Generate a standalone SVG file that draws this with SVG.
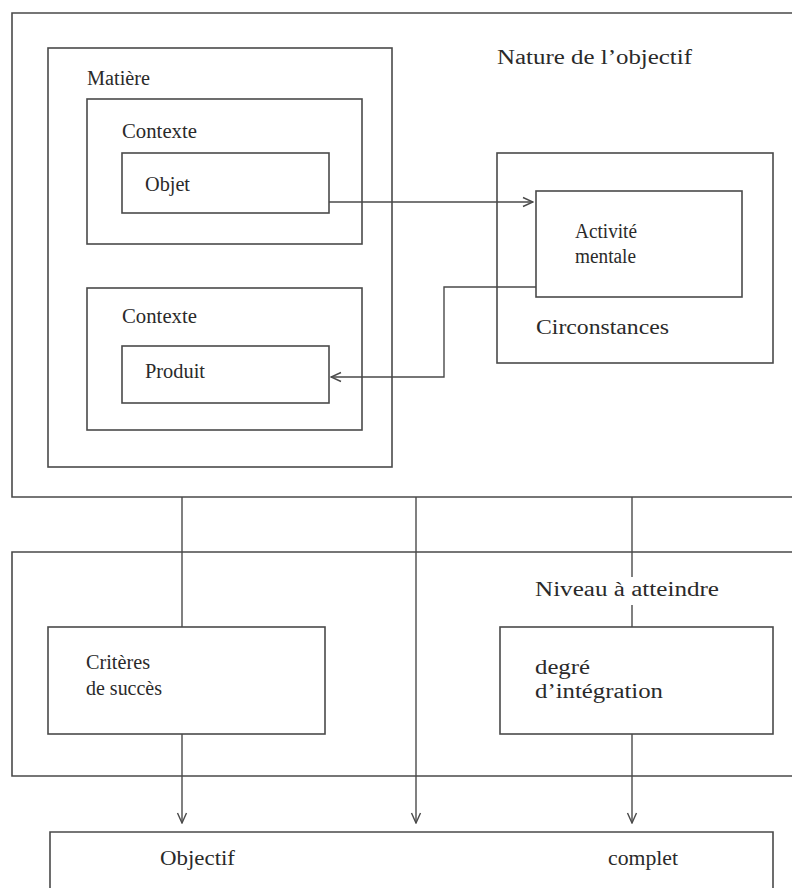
<svg xmlns="http://www.w3.org/2000/svg" width="792" height="888" viewBox="0 0 792 888">
<defs>
<style>
.b{fill:none;stroke:#4a4a4a;stroke-width:1.6}
.c{fill:none;stroke:#4a4a4a;stroke-width:1.4}
.t{font-family:"Liberation Serif","DejaVu Serif","Times New Roman",serif;font-size:20px;fill:#2a2a2a}
</style>
<marker id="ah" viewBox="0 0 12 12" refX="11" refY="6" markerWidth="12" markerHeight="12" markerUnits="userSpaceOnUse" orient="auto">
<polyline points="1,1.5 11,6 1,10.5" fill="none" stroke="#4a4a4a" stroke-width="1.4"/>
</marker>
</defs>
<rect width="792" height="888" fill="#ffffff"/>
<g class="t" font-family="'Liberation Serif', 'DejaVu Serif', serif">
<g id="nature">
<path class="b" d="M792,13 H12 V497 H792"/>
<text x="497" y="64" textLength="195" lengthAdjust="spacingAndGlyphs">Nature de l’objectif</text>
</g>
<g id="matiere">
<rect class="b" x="48" y="48" width="344" height="419"/>
<text x="87" y="85" textLength="63" lengthAdjust="spacingAndGlyphs">Matière</text>
</g>
<g id="contexte1">
<rect class="b" x="87" y="99" width="275" height="145"/>
<text x="122" y="138" textLength="75" lengthAdjust="spacingAndGlyphs">Contexte</text>
</g>
<g id="objet">
<rect class="b" x="122" y="153" width="207" height="60"/>
<text x="145" y="191" textLength="45" lengthAdjust="spacingAndGlyphs">Objet</text>
</g>
<g id="contexte2">
<rect class="b" x="87" y="288" width="275" height="142"/>
<text x="122" y="323" textLength="75" lengthAdjust="spacingAndGlyphs">Contexte</text>
</g>
<g id="produit">
<rect class="b" x="122" y="346" width="207" height="57"/>
<text x="145" y="378" textLength="60" lengthAdjust="spacingAndGlyphs">Produit</text>
</g>
<g id="circonstances">
<rect class="b" x="497" y="153" width="276" height="210"/>
<text x="536" y="334" textLength="133" lengthAdjust="spacingAndGlyphs">Circonstances</text>
</g>
<g id="activite">
<rect class="b" x="536" y="191" width="206" height="106"/>
<text x="575" y="238" textLength="62" lengthAdjust="spacingAndGlyphs">Activité</text>
<text x="575" y="263" textLength="61" lengthAdjust="spacingAndGlyphs">mentale</text>
</g>
<g id="niveau">
<path class="b" d="M792,552 H12 V776 H792"/>
<text x="535" y="596" textLength="184" lengthAdjust="spacingAndGlyphs">Niveau à atteindre</text>
</g>
<g id="criteres">
<rect class="b" x="48" y="627" width="277" height="107"/>
<text x="86" y="669" textLength="64" lengthAdjust="spacingAndGlyphs">Critères</text>
<text x="86" y="695" textLength="76" lengthAdjust="spacingAndGlyphs">de succès</text>
</g>
<g id="degre">
<rect class="b" x="500" y="627" width="273" height="107"/>
<text x="535" y="674" textLength="55" lengthAdjust="spacingAndGlyphs">degré</text>
<text x="535" y="698" textLength="128" lengthAdjust="spacingAndGlyphs">d’intégration</text>
</g>
<g id="objectif">
<path class="b" d="M50,888 V832 H773 V888"/>
<text x="160" y="865" textLength="75" lengthAdjust="spacingAndGlyphs">Objectif</text>
<text x="608" y="865" textLength="70" lengthAdjust="spacingAndGlyphs">complet</text>
</g>
</g>
<g id="connectors">
<path class="c" d="M329,202 H533" marker-end="url(#ah)"/>
<path class="c" d="M536,287 H444 V377 H331" marker-end="url(#ah)"/>
<path class="c" d="M182,497 V627"/>
<path class="c" d="M416,497 V823" marker-end="url(#ah)"/>
<path class="c" d="M632,497 V577"/>
<path class="c" d="M632,605 V627"/>
<path class="c" d="M182,734 V823" marker-end="url(#ah)"/>
<path class="c" d="M632,734 V823" marker-end="url(#ah)"/>
</g>
</svg>
